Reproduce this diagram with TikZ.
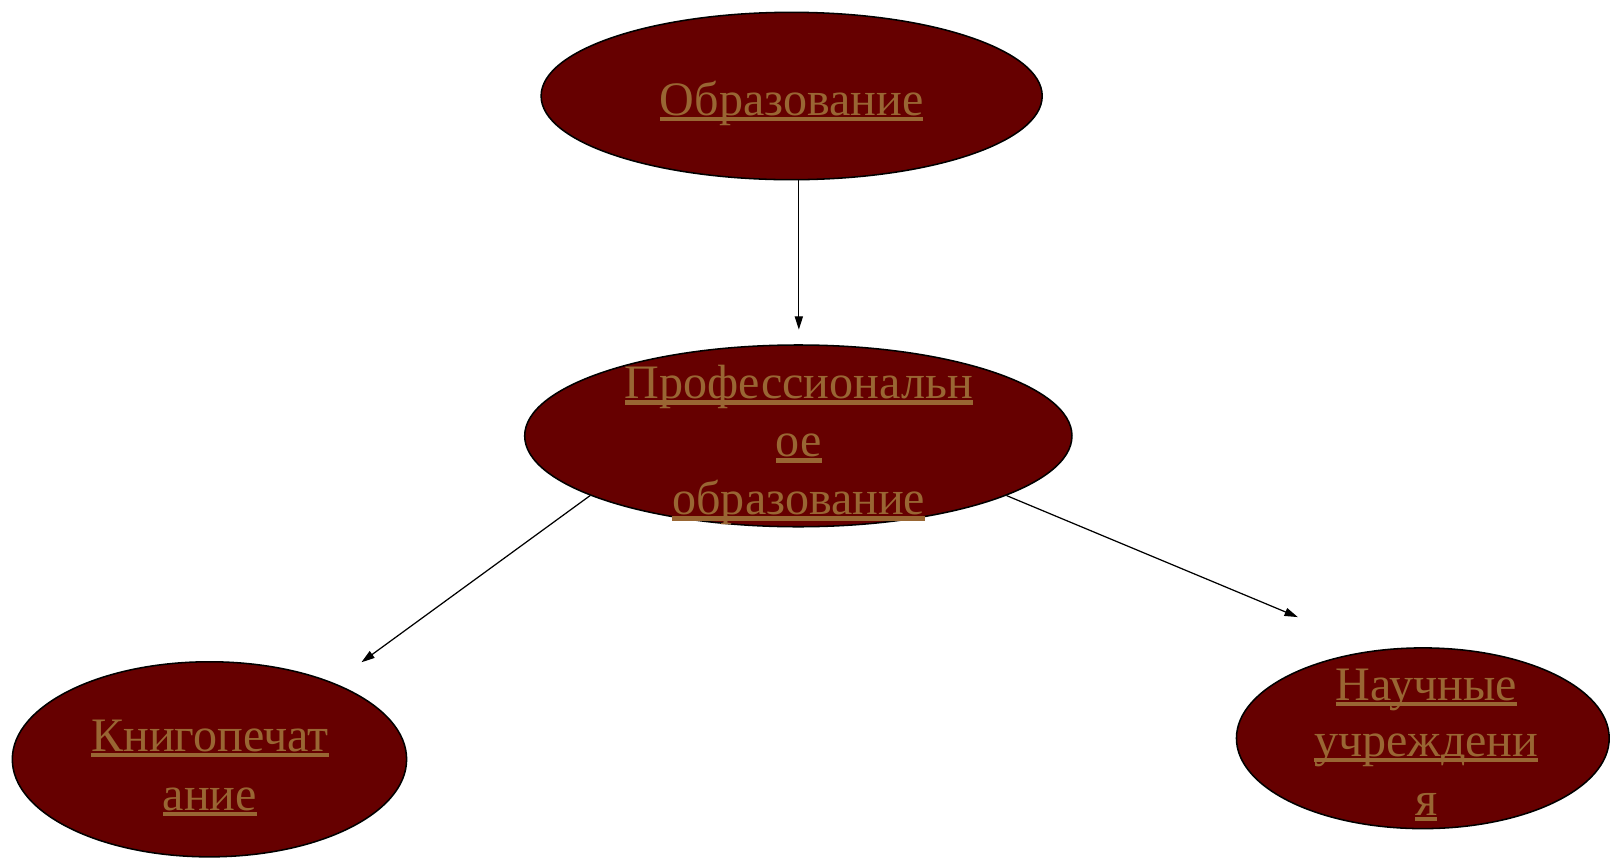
\documentclass[tikz,border=0pt]{standalone}
\usepackage{fontspec}
\setmainfont{Liberation Serif}
\usetikzlibrary{arrows.meta,shapes.geometric}
\definecolor{ovalfill}{HTML}{660000}
\definecolor{txtc}{HTML}{996633}
\newcommand\ulx[1]{\setbox0=\hbox{#1}\rlap{\vrule width\wd0 height -1.5pt depth 5.5pt}\box0}
\begin{document}
\begin{tikzpicture}[x=1pt,y=-1pt,
  oval/.style={ellipse, draw=black, line width=1.5pt, fill=ovalfill, inner sep=0pt},
  lbl/.style={text=txtc, font=\fontsize{46.8}{56.5}\selectfont, inner sep=0pt, anchor=base},
  conn/.style={-{Triangle[length=13pt,width=8pt]}, line width=1.2pt}]
\useasboundingbox (0,0) rectangle (1568,835.6);
\node[oval, minimum width=488pt, minimum height=163pt] (top) at (771,93.5) {};
\node[oval, minimum width=533pt, minimum height=177pt] (mid) at (777.5,424.5) {};
\node[oval, minimum width=384pt, minimum height=190pt] (left) at (204,739.5) {};
\node[oval, minimum width=363pt, minimum height=176pt] (right) at (1385.7,719) {};
\node[lbl] (t1) at (771,112) {\ulx{Образование}};
\node[lbl] (m1) at (778,388.5) {\ulx{Профессиональн}};
\node[lbl] (m2) at (778,445) {\ulx{ое}};
\node[lbl] (m3) at (778,501.5) {\ulx{образование}};
\node[lbl] (l1) at (204.5,732) {\ulx{Книгопечат}};
\node[lbl] (l2) at (204.5,789) {\ulx{ание}};
\node[lbl] (r1) at (1389,682) {\ulx{Научные}};
\node[lbl] (r2) at (1389,737) {\ulx{учреждени}};
\node[lbl] (r3) at (1389,794) {\ulx{я}};
\coordinate (tipV) at (778,321);
\coordinate (tipL) at (352,645);
\coordinate (tipR) at (1264,601);
\draw[conn] (top.south -| tipV) -- (tipV);
\draw[conn] (mid.196) -- (tipL);
\draw[conn] (mid.344) -- (tipR);
\end{tikzpicture}
\end{document}
